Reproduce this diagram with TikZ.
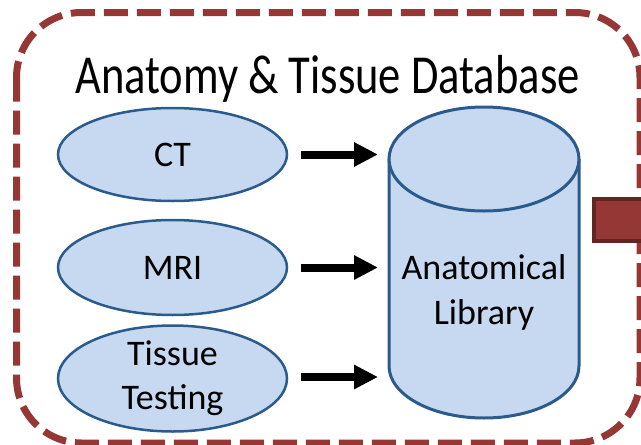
\documentclass[tikz,border=0pt]{standalone}
\usepackage{fontspec}
\setmainfont{Carlito}
\usetikzlibrary{shapes.geometric,arrows.meta}
\definecolor{dred}{HTML}{953735}
\definecolor{ddred}{HTML}{632523}
\definecolor{lblue}{HTML}{C6D9F1}
\definecolor{dblue}{HTML}{2B5A8C}
\begin{document}
\begin{tikzpicture}[x=1pt,y=-1pt,
  src/.style={ellipse, draw=dblue, fill=lblue, line width=2.5pt, minimum width=229pt,
    inner sep=0pt, font=\fontsize{36}{44}\selectfont, align=center},
  arr/.style={line width=8pt, -{Triangle[length=24pt,width=23pt]}, shorten <=12.75pt, shorten >=11pt},
  cylline/.style={draw=dblue, line width=3pt},
]
\useasboundingbox (0,0) rectangle (641,445);
% dashed frame
\draw[dred, line width=7pt, dash pattern=on 24pt off 9pt, rounded corners=65pt]
  (16.5,12.5) rectangle (640,443);
% block arrow stub on the right
\draw[ddred, fill=dred, line width=4pt] (594,199) rectangle (660,241);
% title
\node[font=\fontsize{55}{66}\selectfont, anchor=base, inner sep=0pt] (title) at (327.5,93) {\scalebox{0.81}[1]{Anatomy \& Tissue Database}};
% sources
\node[src, minimum height=93pt] (ct) at (172.5,154.5) {CT};
\node[src, minimum height=95pt] (mri) at (172.5,267.5) {MRI};
\node[src, minimum height=84pt] (tt) at (172.5,378.5) {Tissue\\Testing};
% cylinder
\node[minimum width=190pt, minimum height=311pt, inner sep=0pt, outer sep=0pt] (cyl) at (484,262.5) {};
\fill[lblue] (389,159) -- (389,366) arc[start angle=180, end angle=0, x radius=95, y radius=52] -- (579,159) -- cycle;
\draw[cylline] (389,159) -- (389,366) arc[start angle=180, end angle=0, x radius=95, y radius=52] -- (579,159);
\draw[cylline, fill=lblue] (484,159) ellipse [x radius=95, y radius=52];
\node[font=\fontsize{36}{45}\selectfont, align=center, inner sep=0pt] (lib) at (484,292) {Anatomical\\Library};
% arrows
\draw[arr] (ct.east) -- (ct.east -| cyl.west);
\draw[arr] (mri.east) -- (mri.east -| cyl.west);
\draw[arr] ([yshift=1.5pt]tt.east) -- ([yshift=1.5pt]tt.east -| cyl.west);
\end{tikzpicture}
\end{document}
